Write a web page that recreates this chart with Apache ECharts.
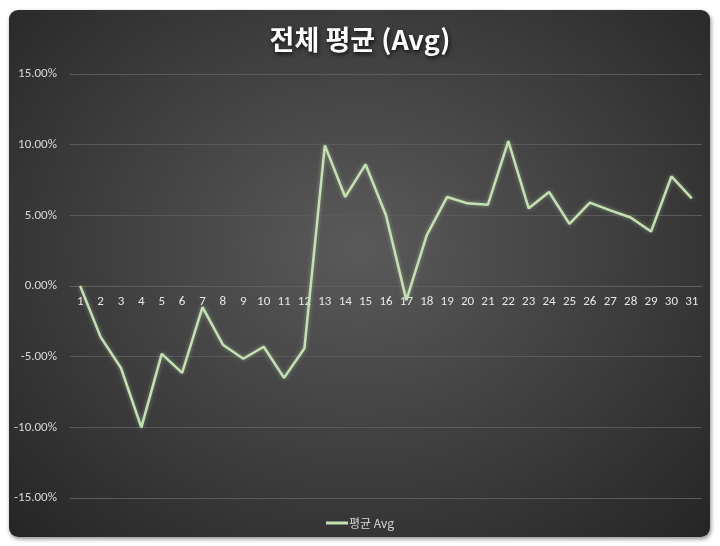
<!DOCTYPE html>
<html><head><meta charset="utf-8">
<script src="https://cdn.jsdelivr.net/npm/echarts@6/dist/echarts.min.js"></script>
<style>
html,body{margin:0;padding:0;background:#fff;}
#panel{position:absolute;left:9px;top:10px;width:701px;height:527px;border-radius:9px;
background:radial-gradient(ellipse at 50% 45%, #5a5a5a 0%, #3d3d3d 55%, #252525 100%);
box-shadow:1px 2px 4px rgba(0,0,0,0.45);}
#c{position:absolute;left:0;top:0;width:720px;height:546px;}
</style></head>
<body><div id="panel"></div><div id="c"></div>
<script>
const categories = ['1','2','3','4','5','6','7','8','9','10','11','12','13','14','15','16','17','18','19','20','21','22','23','24','25','26','27','28','29','30','31'];
const avgValues = [0.0, -3.6, -5.8, -10.0, -4.8, -6.15, -1.5, -4.15, -5.15, -4.3, -6.5, -4.4, 9.95, 6.3, 8.6, 5.0, -1.0, 3.6, 6.3, 5.85, 5.75, 10.25, 5.5, 6.65, 4.4, 5.9, 5.35, 4.85, 3.85, 7.75, 6.2];
const yTicks = {min: -15, max: 15, interval: 5};
const titleText = '전체 평균 (Avg)';
const seriesName = '평균 Avg';

const gridTop = 74, gridBottom = 48, H = 546;
const plotH = H - gridTop - gridBottom;
const zeroOffset = -plotH * (0 - yTicks.min) / (yTicks.max - yTicks.min);

const chart = echarts.init(document.getElementById('c'), null, {renderer:'canvas'});
const font = '"Calibri","Carlito","Liberation Sans","Noto Sans CJK KR",sans-serif';
chart.setOption({
  backgroundColor: 'transparent',
  title: {
    text: titleText, left: 'center', top: 21,
    textStyle: {color:'#ffffff', fontSize: 27, fontWeight:'bold', fontFamily:'"Noto Sans CJK KR",sans-serif',
      textShadowColor:'rgba(0,0,0,0.8)', textShadowBlur:4, textShadowOffsetX:1, textShadowOffsetY:2}
  },
  grid: {left: 70, right: 18, top: gridTop, bottom: gridBottom},
  legend: {
    bottom: 12, left: 'center', itemWidth: 22, itemHeight: 3, itemGap: 0,
    data: [{name: seriesName, icon: 'rect'}],
    textStyle: {color:'#d9d9d9', fontSize: 12, fontFamily:'"Noto Sans CJK KR",sans-serif', padding:[0,0,0,-4]}
  },
  xAxis: {
    type:'category', data: categories, boundaryGap: true, offset: zeroOffset,
    axisLine: {show:true, onZero:false, lineStyle:{color:'#5e5e5e', width:1}},
    axisTick: {show:false},
    axisLabel: {color:'#e6e6e6', fontSize: 13, margin: 9, interval: 0, fontFamily: font}
  },
  yAxis: {
    type:'value', min: yTicks.min, max: yTicks.max, interval: yTicks.interval,
    axisLine:{show:false}, axisTick:{show:false},
    splitLine:{lineStyle:{color:'#5a5a5a', width:1}},
    axisLabel:{color:'#d9d9d9', fontSize: 13, margin: 13, fontFamily: font,
      formatter: v => v.toFixed(2) + '%'}
  },
  series: [{
    name: seriesName, type:'line', data: avgValues,
    symbol:'none', smooth:false,
    lineStyle:{color:'#c6e0b4', width:2.5, shadowColor:'rgba(198,224,180,0.5)', shadowBlur:4},
    itemStyle:{color:'#c6e0b4'}
  }]
});
</script></body></html>
